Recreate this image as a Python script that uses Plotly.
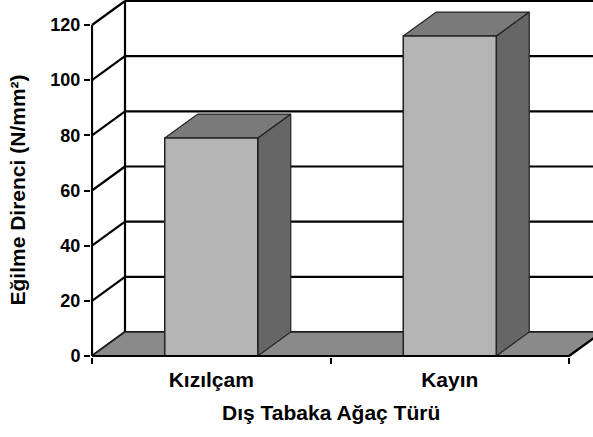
import plotly.graph_objects as go

# ---- data ----
categories = ["Kızılçam", "Kayın"]
values = [79, 116]
y_ticks = [0, 20, 40, 60, 80, 100, 120]
x_title = "Dış Tabaka Ağaç Türü"
y_title = "Eğilme Direnci (N/mm²)"

# ---- geometry / style ----
W, H = 593, 437
ml, mb, mt, mr = 91, 80, 0, 0
pw, ph = W - ml - mr, H - mb - mt
ymax_val = 120
px_per_y = 331 / ymax_val          # pixels per value unit
px_per_x = 238.5                   # pixels per category
depth_px = (33, 24)
dx = depth_px[0] / px_per_x
dy = depth_px[1] / px_per_y
half_w = 0.195
xlo = -0.5 - 1.0 / px_per_x
xhi = xlo + pw / px_per_x
ylo = -1.0 / px_per_y
yhi = ylo + ph / px_per_y
xl, xr = -0.5, len(categories) - 0.5

FONT = "Liberation Sans, Arial, sans-serif"
LINE = dict(color="black", width=2.2)

fig = go.Figure()

def poly(xs, ys, fill, lw=1.2, lc="#222222"):
    fig.add_trace(go.Scatter(x=xs + [xs[0]], y=ys + [ys[0]], mode="lines",
                             fill="toself", fillcolor=fill,
                             line=dict(color=lc, width=lw),
                             hoverinfo="skip", showlegend=False))

def seg(xs, ys, line=LINE):
    fig.add_trace(go.Scatter(x=xs, y=ys, mode="lines", line=line,
                             hoverinfo="skip", showlegend=False))

# back wall gridlines + side diagonals
for v in y_ticks:
    seg([xl + dx, xr + dx], [v + dy, v + dy])
    seg([xl, xl + dx], [v, v + dy])
# back wall left edge
seg([xl + dx, xl + dx], [dy, ymax_val + dy])

# floor
poly([xl, xr, xr + dx, xl + dx], [0, 0, dy, dy], "#8a8a8a", lw=1.5)

# bars
for i, v in enumerate(values):
    x0, x1 = i - half_w, i + half_w
    # side face
    poly([x1, x1 + dx, x1 + dx, x1], [0, dy, v + dy, v], "#666666")
    # top face
    poly([x0, x1, x1 + dx, x0 + dx], [v, v, v + dy, v + dy], "#7a7a7a")
    # front face
    poly([x0, x1, x1, x0], [0, 0, v, v], "#b4b4b4", lw=1.5)

# front frame lines
seg([xl, xl], [0, ymax_val])
seg([xl, xr], [0, 0])
seg([xr, xr + dx], [0, dy])

fig.update_layout(
    width=W, height=H,
    margin=dict(l=ml, r=mr, t=mt, b=mb, autoexpand=False),
    paper_bgcolor="white", plot_bgcolor="white",
    showlegend=False,
    font=dict(family=FONT, size=18, color="black", weight="bold"),
    xaxis=dict(range=[xlo, xhi], showgrid=False, zeroline=False,
               showline=False,
               tickmode="array", tickvals=list(range(len(categories))),
               ticktext=categories, ticks="", ticklabelstandoff=8,
               tickfont=dict(family=FONT, size=21, weight="bold"),
               minor=dict(tickmode="array",
                          tickvals=[i - 0.5 for i in range(len(categories) + 1)],
                          ticks="outside", ticklen=6, tickwidth=2,
                          tickcolor="black", showgrid=False)),
    yaxis=dict(range=[ylo, yhi], showgrid=False, zeroline=False,
               showline=False,
               tickmode="array", tickvals=y_ticks,
               ticks="outside", ticklen=6, tickwidth=2, tickcolor="black",
               tickfont=dict(family=FONT, size=18, weight="bold")),
    annotations=[
        dict(text=x_title, xref="x", yref="paper", x=(xl + xr) / 2, y=0,
             yshift=-55, showarrow=False, xanchor="center", yanchor="middle",
             font=dict(family=FONT, size=21, weight="bold")),
        dict(text=y_title, xref="paper", yref="y", x=0, y=60,
             xshift=-74, showarrow=False, textangle=-90,
             xanchor="center", yanchor="middle",
             font=dict(family=FONT, size=21, weight="bold")),
    ],
)

fig.write_html("out.html", config={"displayModeBar": False},
               post_script="document.body.style.margin='0';")
